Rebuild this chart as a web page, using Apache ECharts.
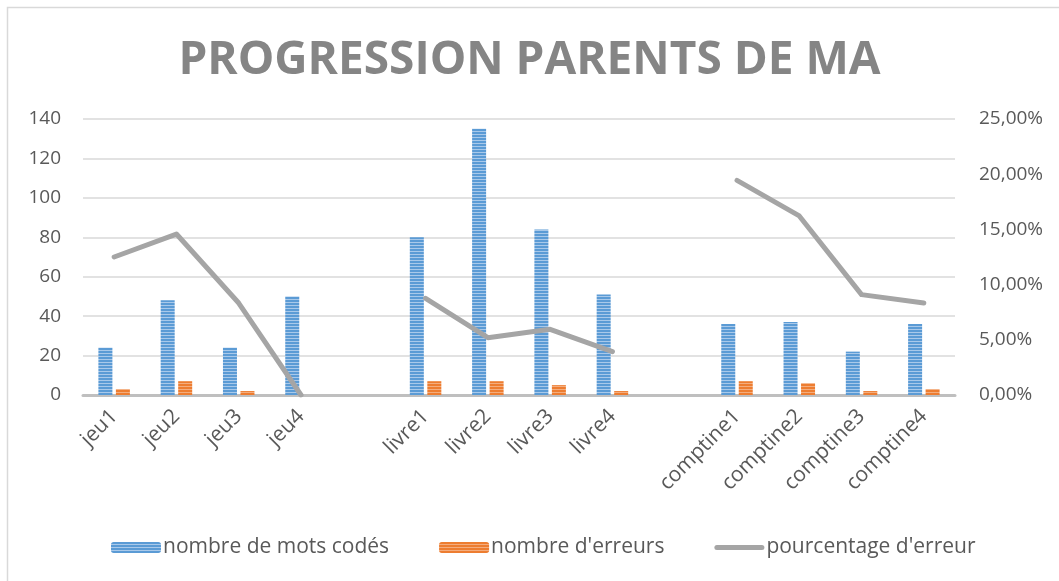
<!DOCTYPE html>
<html>
<head>
<meta charset="utf-8">
<script src="https://cdn.jsdelivr.net/npm/echarts@6/dist/echarts.min.js"></script>
<style>
html,body{margin:0;padding:0;background:#fff;}
#chart{width:1059px;height:581px;}
</style>
</head>
<body>
<div id="chart"></div>
<script>
const categories = ['jeu1','jeu2','jeu3','jeu4','','livre1','livre2','livre3','livre4',' ','comptine1','comptine2','comptine3','comptine4'];
const motsCodes = [24, 48, 24, 50, null, 80, 135, 84, 51, null, 36, 37, 22, 36];
const erreurs = [3, 7, 2, 0, null, 7, 7, 5, 2, null, 7, 6, 2, 3];
const pourcentage = [0.125, 0.1458, 0.0833, 0, null, 0.0875, 0.0519, 0.0595, 0.0392, null, 0.1944, 0.1622, 0.0909, 0.0833];
const seriesNames = ['nombre de mots codés', "nombre d'erreurs", "pourcentage d'erreur"];
const titleText = 'PROGRESSION PARENTS DE MA';

function stripe(dark, light) {
  const c = document.createElement('canvas');
  c.width = 4; c.height = 3;
  const ctx = c.getContext('2d');
  ctx.fillStyle = dark; ctx.fillRect(0, 0, 4, 3);
  ctx.fillStyle = light; ctx.fillRect(0, 2, 4, 1);
  return { image: c, repeat: 'repeat' };
}

const FONT = '"Open Sans", "Noto Sans", sans-serif';
const chart = echarts.init(document.getElementById('chart'), null, { renderer: 'canvas' });
chart.setOption({
  animation: false,
  backgroundColor: '#ffffff',
  graphic: [{
    type: 'rect', silent: true,
    shape: { x: 7.5, y: 7.5, width: 1100, height: 700 },
    style: { fill: 'none', stroke: '#d9d9d9', lineWidth: 1.5 }
  }],
  title: {
    text: titleText, left: 'center', top: 33,
    textStyle: { fontFamily: FONT, fontSize: 46, fontWeight: 'bold', color: '#858585' }
  },
  legend: {
    bottom: 18, left: 106, itemWidth: 50, itemHeight: 11, itemGap: 50,
    textStyle: { fontFamily: FONT, fontSize: 21, color: '#595959', padding: [0, 0, 0, -3] },
    data: [
      { name: seriesNames[0] },
      { name: seriesNames[1] },
      { name: seriesNames[2], icon: 'path://M2.5,0 L47.5,0 A2.5,2.5 0 0 1 47.5,5 L2.5,5 A2.5,2.5 0 0 1 2.5,0 Z', itemStyle: { color: '#a5a5a5' } }
    ]
  },
  grid: { left: 83, right: 104, top: 119, bottom: 186, containLabel: false },
  xAxis: {
    type: 'category', data: categories,
    axisLine: { lineStyle: { color: '#bfbfbf', width: 3 } },
    axisTick: { show: false },
    axisLabel: { rotate: 45, interval: 0, margin: 18, fontFamily: FONT, fontSize: 21, color: '#595959' }
  },
  yAxis: [{
    type: 'value', min: 0, max: 140, interval: 20,
    axisLine: { show: false }, axisTick: { show: false },
    splitLine: { lineStyle: { color: '#d9d9d9', width: 1.5 } },
    axisLabel: { margin: 22, fontFamily: FONT, fontSize: 19, color: '#595959' }
  }, {
    type: 'value', min: 0, max: 0.25, interval: 0.05,
    axisLine: { show: false }, axisTick: { show: false }, splitLine: { show: false },
    axisLabel: {
      margin: 24, fontFamily: FONT, fontSize: 19, color: '#595959',
      formatter: v => (v * 100).toFixed(2).replace('.', ',') + '%'
    }
  }],
  series: [{
    name: seriesNames[0], type: 'bar', data: motsCodes, barWidth: 14, barGap: '25%',
    itemStyle: { color: stripe('#5b9bd5', '#a9c9ea') }
  }, {
    name: seriesNames[1], type: 'bar', data: erreurs, barWidth: 14,
    itemStyle: { color: stripe('#ed7d31', '#f4ad7e') }
  }, {
    name: seriesNames[2], type: 'line', yAxisIndex: 1, data: pourcentage,
    symbol: 'none', showSymbol: false, connectNulls: false,
    lineStyle: { color: '#a5a5a5', width: 5, cap: 'round', join: 'round' },
    itemStyle: { color: '#a5a5a5' }
  }]
});
</script>
</body>
</html>
